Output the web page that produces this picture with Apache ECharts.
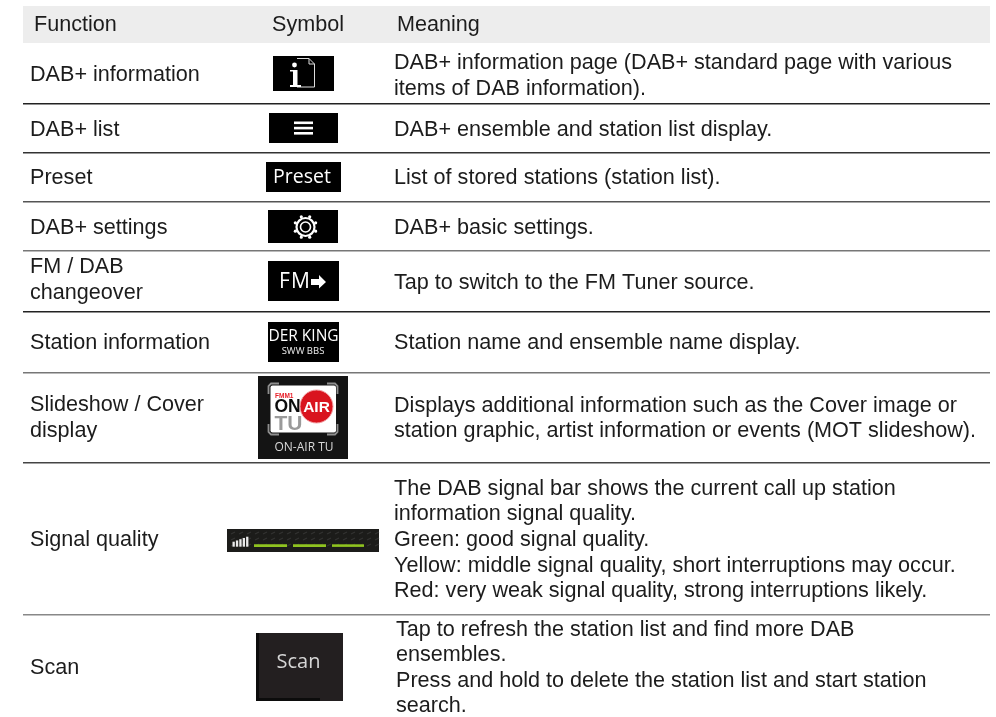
<!DOCTYPE html>
<html>
<head>
<meta charset="utf-8">
<script src="https://cdn.jsdelivr.net/npm/echarts@6/dist/echarts.min.js"></script>
<style>
html, body { margin: 0; background: #fff; }
#chart { width: 996px; height: 717px; }
</style>
</head>
<body>
<div id="chart"></div>
<script>
// table content
const headers = ['Function', 'Symbol', 'Meaning'];
const functions = [
  ['DAB+ information'],
  ['DAB+ list'],
  ['Preset'],
  ['DAB+ settings'],
  ['FM / DAB', 'changeover'],
  ['Station information'],
  ['Slideshow / Cover', 'display'],
  ['Signal quality'],
  ['Scan']
];
const meanings = [
  ['DAB+ information page (DAB+ standard page with various', 'items of DAB information).'],
  ['DAB+ ensemble and station list display.'],
  ['List of stored stations (station list).'],
  ['DAB+ basic settings.'],
  ['Tap to switch to the FM Tuner source.'],
  ['Station name and ensemble name display.'],
  ['Displays additional information such as the Cover image or', 'station graphic, artist information or events (MOT slideshow).'],
  ['The DAB signal bar shows the current call up station', 'information signal quality.', 'Green: good signal quality.', 'Yellow: middle signal quality, short interruptions may occur.', 'Red: very weak signal quality, strong interruptions likely.'],
  ['Tap to refresh the station list and find more DAB', 'ensembles.', 'Press and hold to delete the station list and start station', 'search.']
];

// layout, measured from the page
const FONT = '"Liberation Sans", Arial, sans-serif';
const SIZE = 21.6;
const LINE = 25.6;
const rules = [103, 152, 201, 250, 311, 372, 462, 614];
const ruleColors = ['#222', '#333', '#555', '#777', '#222', '#777', '#444', '#888'];
const functionY = [75, 130, 178, 228, 280, 343, 418, 540, 668];
const meaningY = [76, 130, 178, 228, 283, 343, 418.5, 540, 668];
const meaningX = [394, 394, 394, 394, 394, 394, 394, 394, 396];

const g = [];
function rect(x, y, w, h, fill, extra) {
  g.push(Object.assign({ type: 'rect', shape: { x, y, width: w, height: h }, style: { fill } }, extra || {}));
}
function text(x, y, str, size, fill, opts) {
  g.push({
    type: 'text', x, y,
    style: Object.assign({ text: str, font: (size || SIZE) + 'px ' + FONT, fill: fill || '#1c1c1c', textVerticalAlign: 'middle', textAlign: 'left' }, opts || {})
  });
}
function poly(points, fill) {
  g.push({ type: 'polygon', shape: { points }, style: { fill } });
}
function pline(points, stroke, w) {
  g.push({ type: 'polyline', shape: { points }, style: { stroke, fill: 'none', lineWidth: w } });
}
function line(x1, y1, x2, y2, stroke, w) {
  g.push({ type: 'line', shape: { x1, y1, x2, y2 }, style: { stroke, lineWidth: w } });
}
function circle(cx, cy, r, style) {
  g.push({ type: 'circle', shape: { cx, cy, r }, style });
}

// header band and rules
rect(23, 6, 967, 37, '#ededed');
text(34, 25, headers[0]);
text(272, 25, headers[1]);
text(397, 25, headers[2]);
rules.forEach((y, i) => rect(23, y, 967, 1.4, ruleColors[i]));

// text columns
functions.forEach((lines, i) => {
  const top = functionY[i] - (lines.length - 1) * LINE / 2;
  lines.forEach((t, k) => text(30, top + k * LINE, t));
});
meanings.forEach((lines, i) => {
  const top = meaningY[i] - (lines.length - 1) * LINE / 2;
  lines.forEach((t, k) => text(meaningX[i], top + k * LINE, t));
});

// symbols
const SYM = 'Open Sans, "Noto Sans", sans-serif';
// info page
rect(273, 56, 61, 35, '#000');
pline([[297, 58.5], [309, 58.5], [314.5, 64], [314.5, 87], [297, 87]], '#ddd', 1);
pline([[309, 58.5], [309, 64], [314.5, 64]], '#ddd', 1);
circle(294.5, 65, 2.4, { fill: '#fff' });
rect(293, 70, 4.5, 16, '#fff');
rect(290, 85, 11, 2, '#fff');
rect(290, 70, 5, 1.5, '#fff');
// list
rect(269, 113, 69, 30, '#000');
[121.5, 126.8, 132].forEach(y => rect(294, y, 19, 2.6, '#fff'));
// preset
rect(266, 162, 75, 30, '#000');
text(302, 177, 'Preset', 19.5, '#fff', { textAlign: 'center', font: '19.5px ' + SYM });
// gear
rect(268, 210, 70, 33, '#000');
circle(305.5, 227, 9, { fill: 'none', stroke: '#fff', lineWidth: 2.2 });
circle(305.5, 227, 5, { fill: 'none', stroke: '#fff', lineWidth: 1.6 });
for (let a = 0; a < 8; a++) {
  const t = a * Math.PI / 4 + Math.PI / 8;
  circle(305.5 + 11 * Math.cos(t), 227 + 11 * Math.sin(t), 1.6, { fill: '#fff' });
}
// FM
rect(268, 261, 71, 40, '#000');
text(279, 282, 'F', 21, '#fff', { font: '21px ' + SYM });
text(291, 282, 'M', 21, '#fff', { font: '21px ' + SYM });
poly([[311, 279], [319, 279], [319, 275], [326, 282], [319, 288.5], [319, 285], [311, 285]], '#fff');
// station name
rect(268, 322, 71, 40, '#000');
text(303.5, 337, 'DER KING', 15.5, '#fff', { textAlign: 'center', font: '15.5px ' + SYM });
text(303, 351, 'SWW BBS', 9.5, '#eee', { textAlign: 'center', font: '9.5px ' + SYM });
// slideshow
rect(258, 376, 90, 83, '#141414');
rect(270.5, 385.5, 65.5, 47, '#fff', { shape: { x: 270.5, y: 385.5, width: 65.5, height: 47, r: 2 } });
const BRK = '#8f8f8f';
pline([[268.5, 394], [268.5, 386], [271, 383.5], [279, 383.5]], BRK, 1.8);
pline([[327, 383.5], [335, 383.5], [337.5, 386], [337.5, 394]], BRK, 1.8);
pline([[268.5, 424], [268.5, 432], [271, 434.5], [279, 434.5]], BRK, 1.8);
pline([[327, 434.5], [335, 434.5], [337.5, 432], [337.5, 424]], BRK, 1.8);
text(275, 396.5, 'FMM1', 6.5, '#e8202a', { font: 'bold 6.5px ' + FONT });
text(274.5, 424.5, 'TU', 21, '#9a9a9a', { font: 'bold 21px ' + FONT });
text(274.5, 407, 'ON', 17.5, '#0c0c0c', { font: 'bold 17.5px ' + FONT });
circle(316.5, 406.5, 16.5, { fill: '#d9141e', stroke: '#f3a0a4', lineWidth: 1 });
text(316.5, 407.5, 'AIR', 15.5, '#fff', { textAlign: 'center', font: 'bold 15.5px ' + FONT });
text(304, 448, 'ON-AIR TU', 12, '#d8d8d8', { textAlign: 'center', font: '12px ' + SYM });
// signal bar
rect(227, 529, 152, 23, '#1c1c1a');
for (let x = 227; x < 376; x += 8) {
  for (let y = 532; y < 550; y += 6) {
    line(x + (y % 12 ? 4 : 0), y + 2, x + (y % 12 ? 8 : 4), y, '#343432', 1.2);
  }
}
[0, 1, 2, 3, 4].forEach(i => rect(232.5 + i * 3.4, 541.7 - i * 1.25, 2.3, 5 + i * 1.25, '#eaeaea'));
[[254, 287], [293, 326], [332, 364]].forEach(s => line(s[0], 545.6, s[1], 545.6, '#8fc31f', 2.6));
// scan
rect(256, 633, 87, 68, '#231f20');
rect(256, 633, 3, 68, '#0c0c0c');
rect(256, 698, 64, 3, '#0c0c0c');
text(298.5, 662.5, 'Scan', 20, '#d6d6d6', { textAlign: 'center', font: '20px ' + SYM });

const chart = echarts.init(document.getElementById('chart'));
chart.setOption({ backgroundColor: '#fff', animation: false, graphic: { elements: g } });
</script>
</body>
</html>
